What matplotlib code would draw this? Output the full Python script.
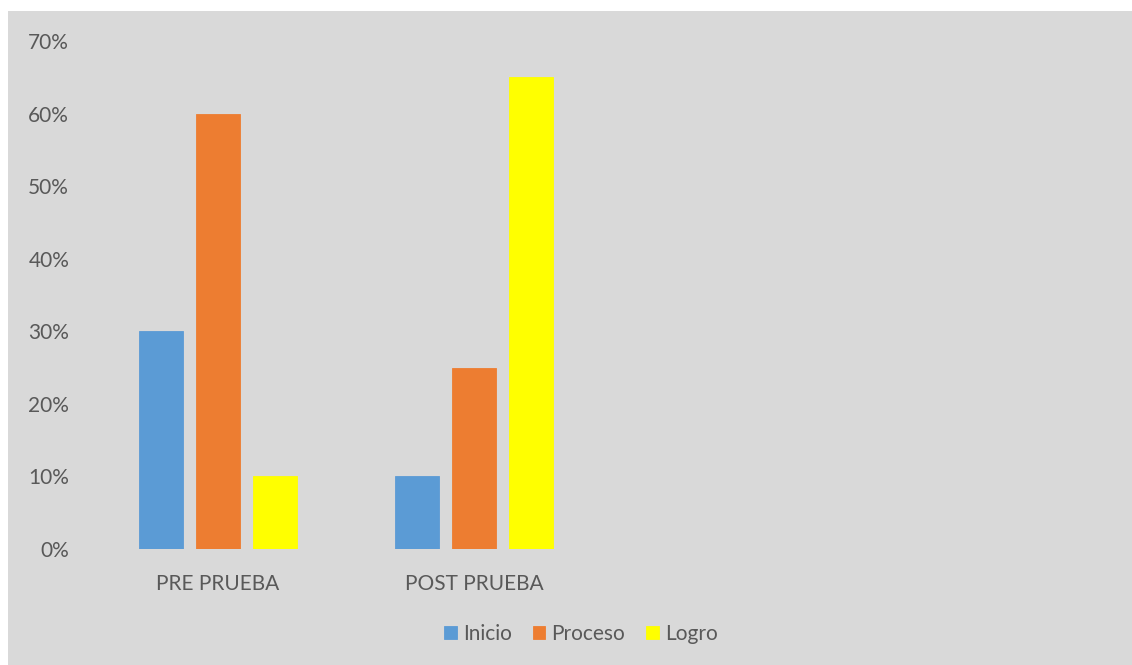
import matplotlib
matplotlib.use("Agg")
import matplotlib.pyplot as plt
from matplotlib.patches import Rectangle
import numpy as np

categories = ["PRE PRUEBA", "POST PRUEBA"]
series_names = ["Inicio", "Proceso", "Logro"]
inicio = [30, 10]
proceso = [60, 25]
logro = [10, 65]
yticks = [0, 10, 20, 30, 40, 50, 60, 70]
ytick_labels = ["0%", "10%", "20%", "30%", "40%", "50%", "60%", "70%"]

colors = ["#5b9bd5", "#ed7d31", "#ffff00"]
bg = "#d9d9d9"
txt = "#595959"

plt.rcParams['font.family'] = ['Lato', 'DejaVu Sans']

W, H = 1132, 665
fig = plt.figure(figsize=(W / 100, H / 100), dpi=100)
fig.patch.set_facecolor("white")
fig.patches.append(Rectangle((8 / W, 0), 1 - 8 / W, 1 - 11 / H, transform=fig.transFigure,
                             facecolor=bg, edgecolor="none", zorder=-10))

ax = fig.add_axes([90 / W, 116 / H, (1114 - 90) / W, (549 - 41) / H])
ax.set_facecolor(bg)
ax.patch.set_alpha(0)

x = np.arange(len(categories))
width = 0.172
offset = 0.223
for i, (name, vals) in enumerate(zip(series_names, [inicio, proceso, logro])):
    ax.bar(x + (i - 1) * offset, vals, width, color=colors[i], label=name,
           edgecolor=colors[i], linewidth=0.6)

ax.set_xlim(-0.5, 3.5)
ax.set_ylim(0, 70)
ax.set_yticks(yticks)
ax.set_yticklabels(ytick_labels)
ax.set_xticks(x)
ax.set_xticklabels(categories)
for s in ax.spines.values():
    s.set_visible(False)
ax.tick_params(axis="y", length=0, pad=15, labelsize=15, labelcolor=txt)
ax.tick_params(axis="x", length=0, pad=18, labelsize=15, labelcolor=txt)

leg = fig.legend(loc="center", bbox_to_anchor=(581 / W, 1 - 634 / H), ncol=3, frameon=False,
                 fontsize=15, handlelength=0.6, handleheight=0.6, handletextpad=0.3,
                 columnspacing=1.0)
for t in leg.get_texts():
    t.set_color(txt)

fig.savefig("out.png", dpi=100, facecolor=fig.get_facecolor())
